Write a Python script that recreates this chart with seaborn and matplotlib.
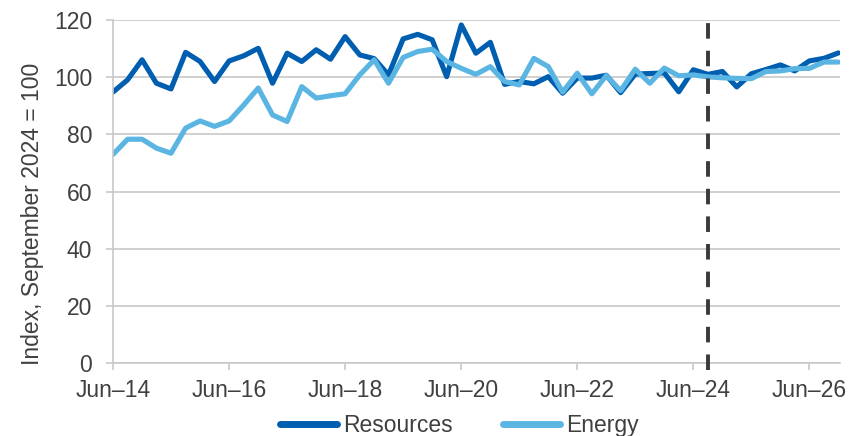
import pandas as pd
import matplotlib
matplotlib.use("Agg")
import matplotlib.pyplot as plt
from matplotlib.lines import Line2D
import seaborn as sns

# Quarterly index values, June 2014 to December 2026 (September 2024 = 100)
quarters = pd.date_range("2014-06-01", periods=51, freq="3MS")

resources = [
    94.8, 99.1, 106.1, 97.9, 95.9, 108.7, 105.5, 98.5, 105.7, 107.5,
    110.1, 97.9, 108.4, 105.5, 109.6, 106.3, 114.2, 107.8, 106.5, 100.8,
    113.4, 115.0, 113.1, 100.2, 118.3, 108.4, 112.2, 97.5, 98.5, 97.7,
    100.2, 94.4, 99.7, 99.7, 100.7, 94.6, 101.1, 101.3, 101.5, 94.9,
    102.6, 101.0, 102.0, 96.6, 101.2, 102.7, 104.3, 102.2, 105.7, 106.6,
    108.5,
]
energy = [
    73.0, 78.3, 78.3, 75.2, 73.4, 82.2, 84.7, 82.8, 84.7, 90.3,
    96.2, 86.8, 84.5, 96.7, 92.7, 93.5, 94.2, 100.8, 106.1, 97.9,
    106.9, 109.0, 109.8, 105.5, 103.1, 101.0, 103.7, 98.5, 97.3, 106.6,
    103.7, 94.8, 101.4, 94.2, 100.6, 95.3, 102.8, 97.9, 103.2, 100.5,
    100.8, 100.1, 99.8, 99.6, 99.5, 102.0, 102.2, 103.0, 103.1, 105.3,
    105.3,
]
series_names = ["Resources", "Energy"]
series_colors = ["#005EB0", "#5BB5E2"]

tick_dates = pd.to_datetime([
    "2014-06-01", "2016-06-01", "2018-06-01", "2020-06-01",
    "2022-06-01", "2024-06-01", "2026-06-01",
])
tick_labels = ["Jun–14", "Jun–16", "Jun–18", "Jun–20", "Jun–22", "Jun–24", "Jun–26"]
y_ticks = [0, 20, 40, 60, 80, 100, 120]
base_date = pd.Timestamp("2024-09-01")

df = pd.DataFrame({
    "date": list(quarters) * 2,
    "value": resources + energy,
    "series": [series_names[0]] * len(resources) + [series_names[1]] * len(energy),
})

sns.set_theme(style="white")
plt.rcParams["font.family"] = ["Liberation Sans", "DejaVu Sans"]

text_color = "#404040"
grid_color = "#C8C8C8"
font_size = 16.5

fig, ax = plt.subplots(figsize=(8.66, 4.36), dpi=100)
fig.subplots_adjust(left=0.1305, right=0.970, top=0.954, bottom=0.1674)

palette = dict(zip(series_names, series_colors))
sns.lineplot(data=df, x="date", y="value", hue="series", hue_order=series_names,
             palette=palette, linewidth=3.7, ax=ax, legend=False)
for line in ax.get_lines():
    line.set_solid_joinstyle("round")
    line.set_solid_capstyle("round")

# Rebase date marker
ax.plot([base_date, base_date], [-2.5, 120], color="#3A3A3A", linewidth=2.8,
        linestyle=(0, (4.0, 3.1)), clip_on=False, zorder=5)

ax.set_ylim(0, 120)
ax.set_xlim(quarters[0], quarters[-1] + pd.Timedelta(days=10))
ax.set_yticks(y_ticks)
ax.set_xticks(tick_dates)
ax.set_xticklabels(tick_labels)

ax.grid(axis="y", color=grid_color, linewidth=1.2)
ax.grid(axis="x", visible=False)
ax.set_axisbelow(True)

for side in ["top", "right"]:
    ax.spines[side].set_visible(False)
for side in ["left", "bottom"]:
    ax.spines[side].set_color(grid_color)
    ax.spines[side].set_linewidth(1.2)

ax.tick_params(axis="y", which="major", direction="out", length=5, width=1.2,
               color=grid_color, labelcolor=text_color, labelsize=font_size, pad=10, left=True)
ax.tick_params(axis="x", which="major", direction="out", length=5, width=1.2,
               color=grid_color, labelcolor=text_color, labelsize=font_size, pad=6.5, bottom=True)

ax.set_xlabel("")
ax.set_ylabel("Index, September 2024 = 100", fontsize=font_size, color=text_color)
ax.yaxis.set_label_coords(-0.095, 0.436)

handles = [Line2D([0], [0], color=c, linewidth=5, solid_capstyle="round") for c in series_colors]
ax.legend(handles, series_names, loc="center", bbox_to_anchor=(0.476, -0.181), ncol=2,
          frameon=False, fontsize=font_size, labelcolor=text_color, handlelength=2.5,
          handletextpad=0.25, columnspacing=2.2, borderaxespad=0)

fig.savefig("out.png", dpi=100)
